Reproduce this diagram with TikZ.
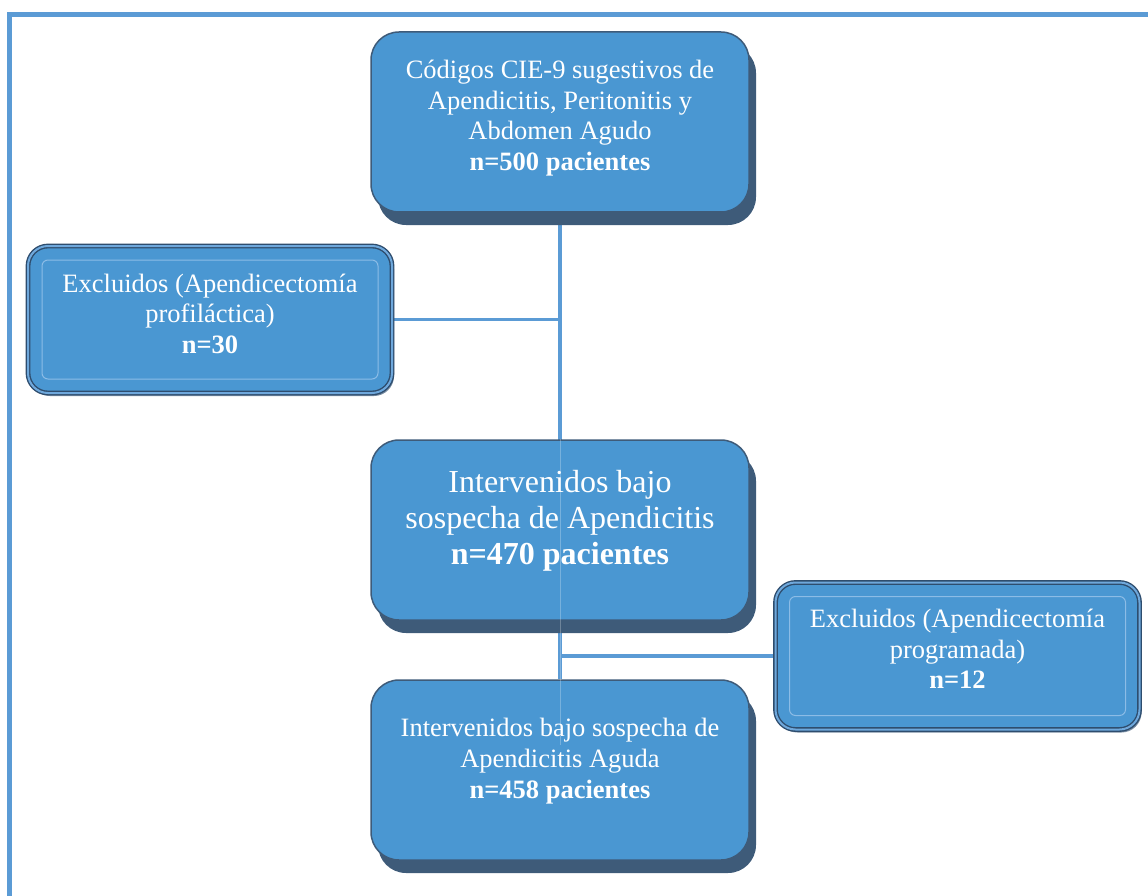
\documentclass[tikz,border=0pt]{standalone}
\usepackage{fontspec}
\setmainfont{Liberation Serif}
\usetikzlibrary{shadows,backgrounds}
\definecolor{faceblue}{HTML}{4A97D2}
\definecolor{bevel}{HTML}{3E5B79}
\definecolor{rimdark}{HTML}{2E4D6E}
\definecolor{rimlight}{HTML}{6FA8DC}
\definecolor{linkblue}{HTML}{5B9BD5}
\definecolor{innerrim}{HTML}{8CBCE6}

\begin{document}
\begin{tikzpicture}[x=1pt,y=-1pt]
	\tikzstyle{stage}=[rounded corners=28pt,fill=faceblue,draw=bevel,line width=1.5pt,minimum width=378pt,minimum height=180pt,
		general shadow={fill=bevel,shadow xshift=7pt,shadow yshift=-13pt,rounded corners=28pt}]
	\tikzstyle{stagetext}=[text=white,align=center,yshift=9pt]
	\tikzstyle{excluded}=[rounded corners=20pt,fill=faceblue,draw=rimdark,double=rimlight,double distance=2pt,line width=1.4pt,
		minimum width=364pt,minimum height=147pt,
		general shadow={fill=bevel!70,shadow xshift=2pt,shadow yshift=-3pt,rounded corners=20pt},
		path picture={\draw[innerrim,line width=1pt,rounded corners=6pt] ([shift={(14pt,-14pt)}]path picture bounding box.north west) rectangle ([shift={(-14pt,14pt)}]path picture bounding box.south east);}]
	\tikzstyle{excludedtext}=[text=white,align=center,yshift=6pt,font=\fontsize{26.5}{30.5}\selectfont]
	\tikzstyle{link}=[linkblue,line width=3.5pt]
	\tikzstyle{faintlink}=[white,line width=1pt,opacity=0.25]
	\tikzstyle{frame}=[linkblue,line width=5pt]
	
	\useasboundingbox (0,0) rectangle (1148,896);
	\draw[frame] (9,896) -- (9,15) -- (1148,15);
	
	\node [stage,label={[stagetext,yshift=-5pt,font=\fontsize{26.5}{30.5}\selectfont]center:{Códigos CIE-9 sugestivos de\\Apendicitis, Peritonitis y\\Abdomen Agudo\\\textbf{n=500 pacientes}}}] (codigos) at (560,122) {};
	\node [excluded,label={[excludedtext]center:{Excluidos (Apendicectomía\\profiláctica)\\\textbf{n=30}}}] (profilactica) at (210,319.5) {};
	\node [stage,label={[stagetext,font=\fontsize{32}{36}\selectfont]center:{Intervenidos bajo\\sospecha de Apendicitis\\\textbf{n=470 pacientes}}}] (intervenidos) at (560,530) {};
	\node [excluded,label={[excludedtext,yshift=1pt]center:{Excluidos (Apendicectomía\\programada)\\\textbf{n=12}}}] (programada) at (957.5,656) {};
	\node [stage,label={[stagetext,font=\fontsize{26.5}{31}\selectfont]center:{Intervenidos bajo sospecha de\\Apendicitis Aguda\\\textbf{n=458 pacientes}}}] (agudos) at (560,770) {};
	
	\begin{scope}[on background layer]
		\draw[link] (codigos) -- (agudos);
		\draw[link] (profilactica) -- (profilactica -| codigos);
		\draw[link] (programada) -- (programada -| codigos);
	\end{scope}
	% faint trace of the trunk across the lower boxes
	\draw[faintlink] (intervenidos.north) -- ([yshift=25pt]agudos.center);
\end{tikzpicture}
\end{document}
